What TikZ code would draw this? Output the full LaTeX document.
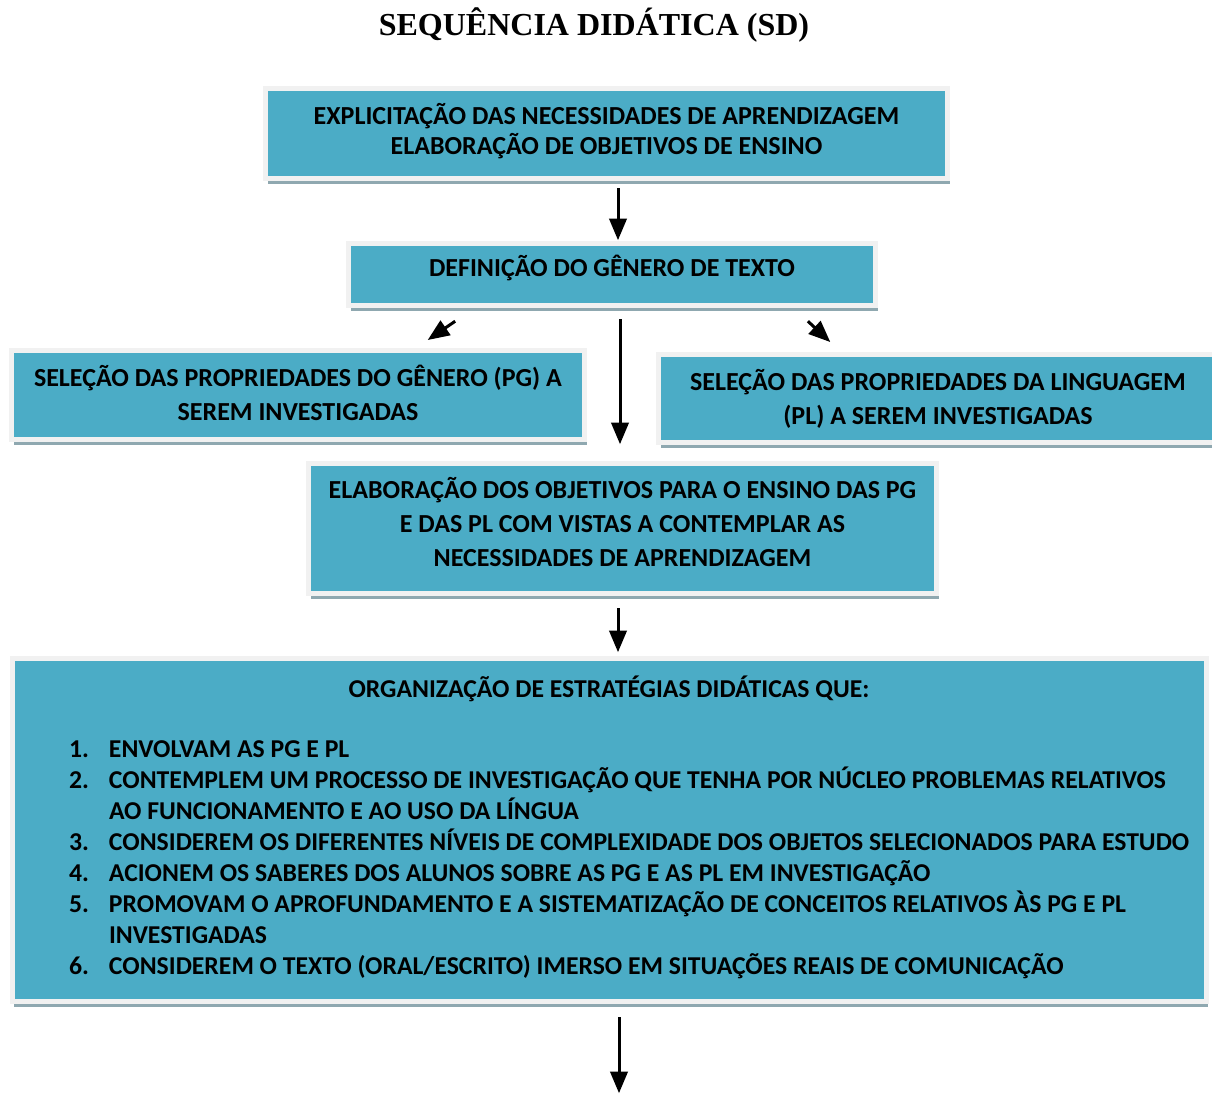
\documentclass[tikz,border=0pt]{standalone}
\usepackage{fontspec}
\setmainfont{Carlito}
\newfontfamily\titulo{Liberation Serif}
\usetikzlibrary{arrows,shadows}
\definecolor{azul}{RGB}{75,172,198}
\definecolor{moldura}{RGB}{241,241,241}
\definecolor{sombra}{RGB}{143,168,176}
\tikzstyle{caixa} = [rectangle, draw=moldura, line width=2.5pt, fill=azul, align=center,
    font=\bfseries\fontsize{13}{15}\selectfont,
    drop shadow={shadow xshift=1pt, shadow yshift=-2.5pt, fill=sombra, opacity=1}]
\begin{document}
\begin{tikzpicture}[->,>=triangle 45,line width=1.5pt,x=0.5pt,y=-0.5pt]
  \useasboundingbox (0,0) rectangle (1212,1094);
  \node[font=\titulo\bfseries\fontsize{16}{20}\selectfont] (tit) at (594,25) {SEQUÊNCIA DIDÁTICA (SD)};
  \node[caixa, minimum width=341pt, minimum height=45pt, text depth=5pt] (nec) at (606.5,133.5)
    {EXPLICITAÇÃO DAS NECESSIDADES DE APRENDIZAGEM\\ELABORAÇÃO DE OBJETIVOS DE ENSINO};
  \node[caixa, minimum width=263.5pt, minimum height=31pt, text depth=8.5pt] (def) at (612,274.5)
    {DEFINIÇÃO DO GÊNERO DE TEXTO};
  \node[caixa, minimum width=286.5pt, minimum height=44.5pt, text depth=2pt, font=\bfseries\fontsize{13}{17}\selectfont] (pg) at (298,395)
    {SELEÇÃO DAS PROPRIEDADES DO GÊNERO (PG) A\\SEREM INVESTIGADAS};
  \node[caixa, minimum width=279.5pt, minimum height=44pt, font=\bfseries\fontsize{13}{17}\selectfont] (pl) at (938,398.5)
    {SELEÇÃO DAS PROPRIEDADES DA LINGUAGEM\\(PL) A SEREM INVESTIGADAS};
  \node[caixa, minimum width=314pt, minimum height=65pt, text depth=7pt, font=\bfseries\fontsize{13}{17}\selectfont] (elab) at (622.5,528.5)
    {ELABORAÇÃO DOS OBJETIVOS PARA O ENSINO DAS PG\\E DAS PL COM VISTAS A CONTEMPLAR AS\\NECESSIDADES DE APRENDIZAGEM};
  \node[caixa, minimum width=597pt, minimum height=171.5pt, inner sep=0pt, text width=597pt, align=left,
    font=\bfseries\fontsize{12.85}{15.5}\selectfont] (org) at (609,830)
    {\spaceskip=0pt \xspaceskip=0pt
    {\centering ORGANIZAÇÃO DE ESTRATÉGIAS DIDÁTICAS QUE:\par}\vspace{14.5pt}
    \hspace*{28.5pt}\begin{tabular}[t]{@{}p{20pt}@{}l@{}}
    1. & ENVOLVAM AS PG E PL\\
    2. & CONTEMPLEM UM PROCESSO DE INVESTIGAÇÃO QUE TENHA POR NÚCLEO PROBLEMAS RELATIVOS\\
       & AO FUNCIONAMENTO E AO USO DA LÍNGUA\\
    3. & CONSIDEREM OS DIFERENTES NÍVEIS DE COMPLEXIDADE DOS OBJETOS SELECIONADOS PARA ESTUDO\\
    4. & ACIONEM OS SABERES DOS ALUNOS SOBRE AS PG E AS PL EM INVESTIGAÇÃO\\
    5. & PROMOVAM O APROFUNDAMENTO E A SISTEMATIZAÇÃO DE CONCEITOS RELATIVOS ÀS PG E PL\\
       & INVESTIGADAS\\
    6. & CONSIDEREM O TEXTO (ORAL/ESCRITO) IMERSO EM SITUAÇÕES REAIS DE COMUNICAÇÃO
    \end{tabular}};
  \coordinate (fim) at (619,1093);

  \draw[shorten <=3.5pt, shorten >=0.5pt] ([xshift=5.75pt]nec.south) -- ([xshift=5.75pt]nec.south |- def.north);
  \draw[shorten <=11.7pt, shorten >=7.2pt] ([xshift=-68.75pt]def.south) -- ([xshift=59pt]pg.north);
  \draw[shorten <=9.7pt, shorten >=7.4pt] ([xshift=90.85pt]def.south) -- ([xshift=-48.5pt]pl.north);
  \draw[shorten <=5.5pt, shorten >=8.5pt] ([xshift=4pt]def.south) -- ([xshift=4pt]def.south |- elab.north);
  \draw[shorten <=6pt, shorten >=2pt] ([xshift=-2.25pt]elab.south) -- ([xshift=-2.25pt]elab.south |- org.north);
  \draw[shorten <=6.5pt] (org.south -| fim) -- (fim);
\end{tikzpicture}
\end{document}
